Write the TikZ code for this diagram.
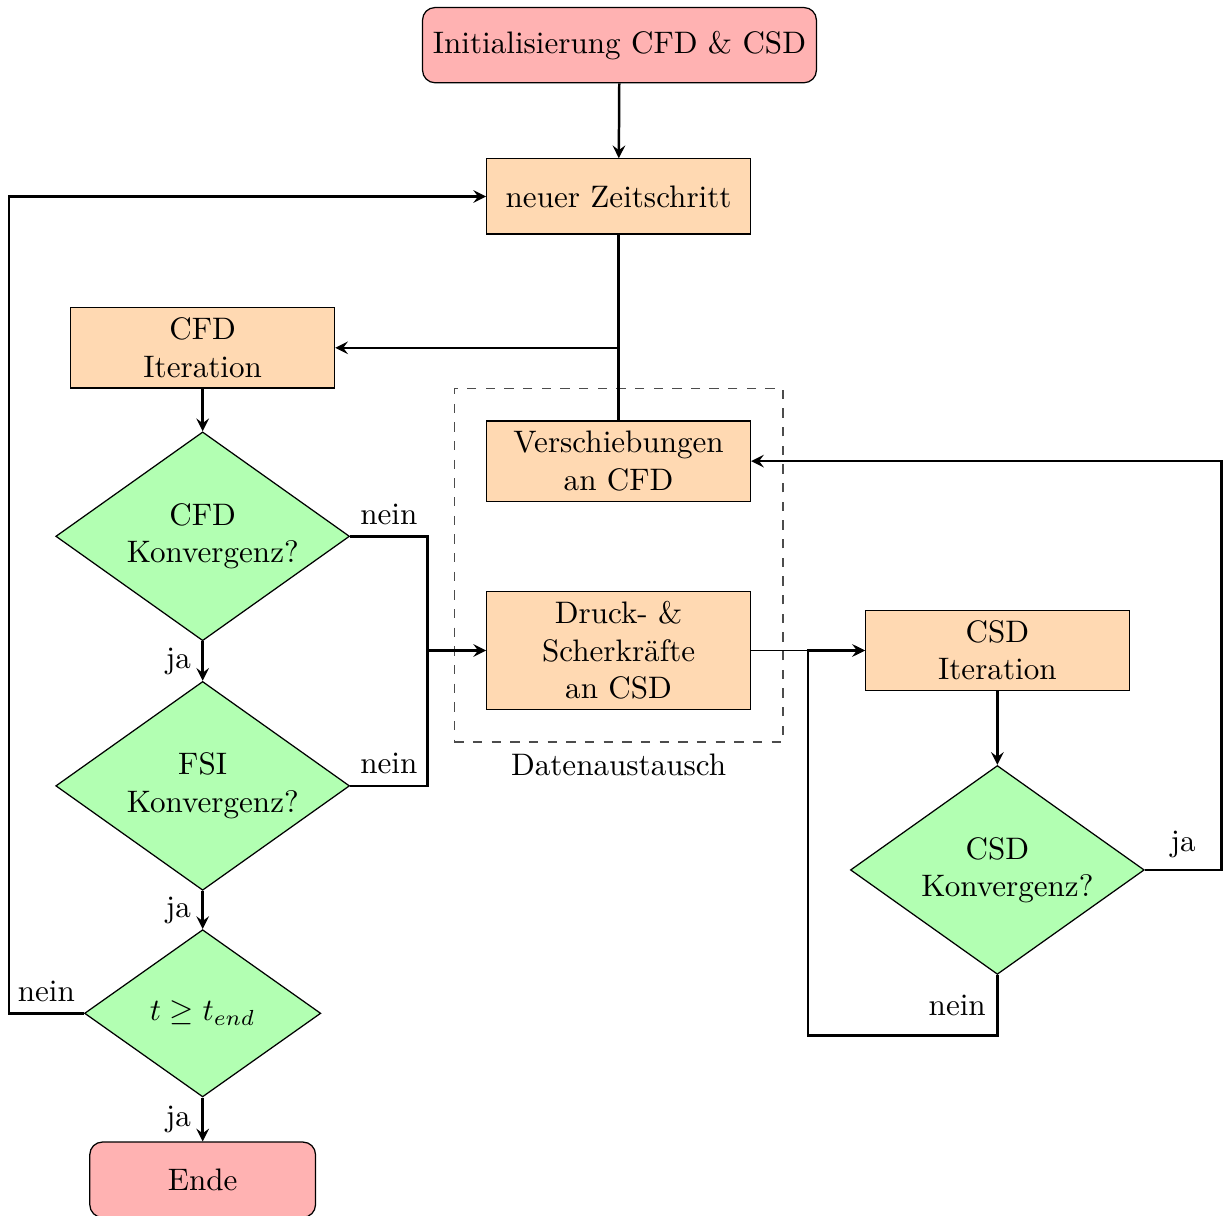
\documentclass[tikz,border=0pt]{standalone}
\usetikzlibrary{shapes.geometric,fit}
\tikzset{>=stealth}
\tikzset{
  startstop/.style={rectangle, rounded corners, draw=black, fill=red!30, minimum height=0.85cm},
  process/.style={rectangle, draw=black, fill=orange!30, minimum width=2.98cm, minimum height=0.85cm, align=center},
  decision/.style={diamond, draw=black, fill=green!30, aspect=1.4, inner sep=0pt, align=center},
  flow/.style={->, thick}
}

\begin{document}
\begin{tikzpicture}
  \useasboundingbox (0,0) rectangle (13.865,-13.73);
  \node[startstop] (init) at (7.00,-0.51) {Initialisierung CFD \& CSD};
  \node[process] (zeit) at (6.99,-2.22) {neuer Zeitschritt};
  \node[process] (cfd) at (2.29,-3.93) {CFD\\Iteration};
  \node[decision, minimum width=3.32cm, minimum height=2.36cm] (cfdkonv) at (2.29,-6.06) {CFD\\\hspace{6.5pt}Konvergenz?};
  \node[decision, minimum width=3.32cm, minimum height=2.36cm] (fsi) at (2.29,-8.88) {FSI\\\hspace{6.5pt}Konvergenz?};
  \node[decision, minimum width=2.67cm, minimum height=1.89cm] (tend) at (2.29,-11.45) {$t \geq t_{end}$};
  \node[startstop, minimum width=2.55cm] (ende) at (2.29,-13.33) {Ende};
  \node[process] (versch) at (6.99,-5.21) {Verschiebungen\\an CFD};
  \node[process] (druck) at (6.99,-7.35) {Druck- \&\\Scherkr\"afte\\an CSD};
  \node[process] (csd) at (11.27,-7.35) {CSD\\Iteration};
  \node[decision, minimum width=3.32cm, minimum height=2.36cm] (csdkonv) at (11.27,-9.83) {CSD\\\hspace{6.5pt}Konvergenz?};
  \node[draw=black!70, dashed, fit=(versch)(druck), inner sep=0.36cm, label=below:Datenaustausch] (exch) {};

  \coordinate (merge) at (4.83,-7.35);
  \coordinate (back) at (0.10,-11.45);
  \coordinate (rback) at (13.80,-9.83);
  \coordinate (lowc) at (9.13,-11.70);

  \draw[flow] (init) -- (zeit);
  \draw[thick] (zeit) -- (versch);
  \draw[flow] (versch.north) |- (cfd.east);
  \draw[flow] (cfd) -- (cfdkonv);
  \draw[flow] (cfdkonv) -- node[left] {ja} (fsi);
  \draw[thick] (cfdkonv.east) -| node[above, pos=0.25] {nein} (merge);
  \draw[thick] (fsi.east) -| node[above, pos=0.25] {nein} (merge);
  \draw[flow] (merge) -- (druck);
  \draw[flow] (fsi) -- node[left] {ja} (tend);
  \draw[flow] (tend.west) -- node[above] {nein} (back) |- (zeit.west);
  \draw[flow] (tend) -- node[left] {ja} (ende);
  \draw[->] (druck) -- (csd);
  \draw[flow] (csd) -- (csdkonv);
  \draw[flow] (csdkonv.east) -- node[above] {ja} (rback) |- (versch.east);
  \draw[flow] (csdkonv.south) |- node[left, pos=0.25] {nein} (lowc) |- (csd.west);
\end{tikzpicture}
\end{document}
